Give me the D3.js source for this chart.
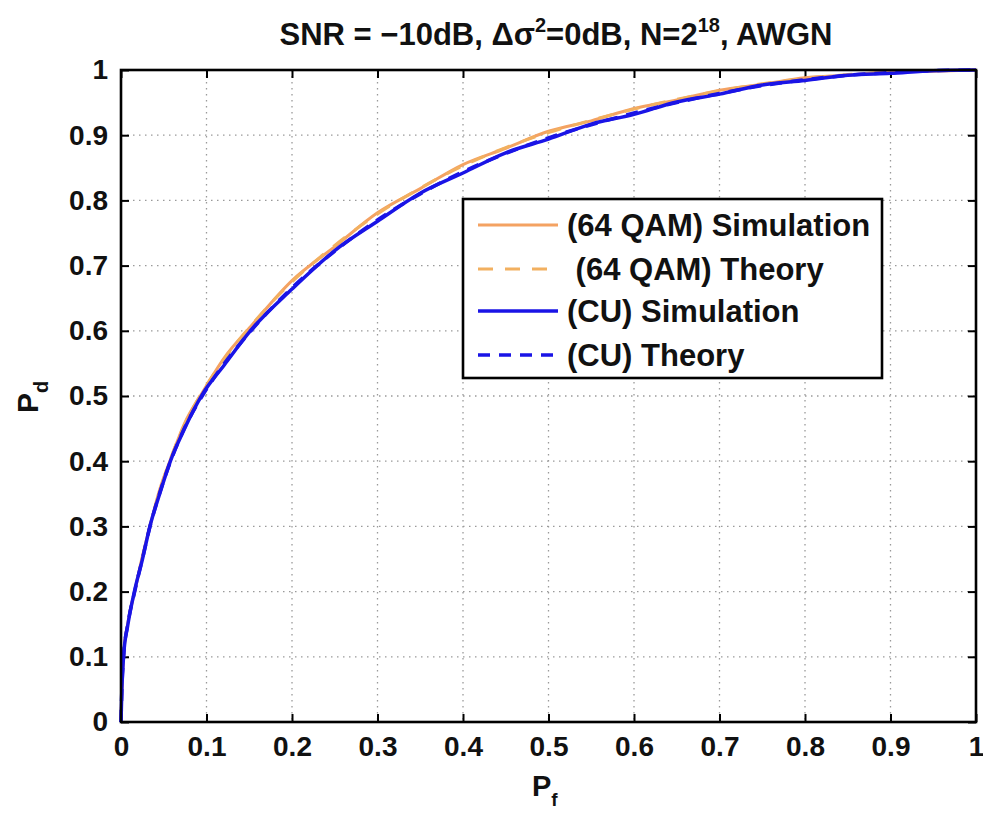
<!DOCTYPE html>
<html>
<head>
<meta charset="utf-8">
<script src="https://cdn.jsdelivr.net/npm/d3@7"></script>
<style>
  html, body { margin: 0; padding: 0; background: #ffffff; }
  svg { display: block; font-family: "Liberation Sans", Arial, Helvetica, sans-serif; font-weight: bold; }
</style>
</head>
<body>
<svg id="chart" width="983" height="813"></svg>
<script>
// False-alarm probability grid shared by all curves
const pf = [0, 0.001, 0.003, 0.008, 0.016, 0.025, 0.034, 0.045, 0.058, 0.074, 0.095,
            0.121, 0.152, 0.2, 0.25, 0.3, 0.35, 0.4, 0.45, 0.5, 0.55, 0.6,
            0.65, 0.7, 0.75, 0.8, 0.85, 0.9, 0.95, 1];

// Detection probability for each series
const qamSim    = [0, 0.049, 0.101, 0.152, 0.2, 0.254, 0.301, 0.355, 0.403, 0.457, 0.505,
                   0.559, 0.607, 0.677, 0.729, 0.781, 0.818, 0.855, 0.88, 0.906, 0.922,
                   0.941, 0.954, 0.969, 0.978, 0.988, 0.992, 0.997, 0.998, 1];
const qamTheory = [0, 0.05, 0.1, 0.151, 0.201, 0.252, 0.302, 0.353, 0.404, 0.455, 0.506,
                   0.557, 0.608, 0.675, 0.731, 0.779, 0.819, 0.853, 0.881, 0.904, 0.923,
                   0.94, 0.955, 0.968, 0.979, 0.987, 0.993, 0.997, 0.999, 1];
const cuSim     = [0, 0.049, 0.101, 0.149, 0.202, 0.249, 0.301, 0.349, 0.401, 0.449, 0.502,
                   0.548, 0.601, 0.664, 0.723, 0.768, 0.811, 0.842, 0.873, 0.894, 0.917,
                   0.932, 0.951, 0.963, 0.977, 0.984, 0.992, 0.995, 0.999, 1];
const cuTheory  = [0, 0.05, 0.1, 0.15, 0.2, 0.25, 0.3, 0.35, 0.4, 0.45, 0.5,
                   0.55, 0.6, 0.666, 0.722, 0.77, 0.81, 0.844, 0.872, 0.896, 0.916,
                   0.934, 0.95, 0.964, 0.976, 0.985, 0.992, 0.996, 0.999, 1];

const seriesNames = ["(64 QAM) Simulation", " (64 QAM) Theory", "(CU) Simulation", "(CU) Theory"];
const seriesData = [qamSim, qamTheory, cuSim, cuTheory];
const seriesColors = ["#f4a262", "#f2b060", "#1a14e6", "#1a14e6"];
const seriesDash = [null, "15,12", null, "12,9"];
const seriesWidth = [3, 3, 3.5, 3.5];

const tickValues = [0, 0.1, 0.2, 0.3, 0.4, 0.5, 0.6, 0.7, 0.8, 0.9, 1];
const tickLabels = ["0", "0.1", "0.2", "0.3", "0.4", "0.5", "0.6", "0.7", "0.8", "0.9", "1"];

const svg = d3.select("#chart");
const plotL = 121, plotR = 976, plotT = 70, plotB = 722;

const x = d3.scaleLinear().domain([0, 1]).range([plotL, plotR]);
const y = d3.scaleLinear().domain([0, 1]).range([plotB, plotT]);
const labelOf = v => tickLabels[tickValues.indexOf(v)];

// Dotted grid
const grid = svg.append("g").attr("stroke", "#9a9a9a").attr("stroke-width", 1.3)
  .attr("stroke-dasharray", "1.5,4.5");
grid.selectAll("line.gx").data(tickValues.slice(1, -1)).join("line").attr("class", "gx")
  .attr("x1", d => x(d)).attr("x2", d => x(d)).attr("y1", plotT).attr("y2", plotB);
grid.selectAll("line.gy").data(tickValues.slice(1, -1)).join("line").attr("class", "gy")
  .attr("y1", d => y(d)).attr("y2", d => y(d)).attr("x1", plotL).attr("x2", plotR);

// Axes with inward ticks on all four sides
function styleAxis(g) {
  g.select(".domain").remove();
  g.selectAll(".tick line").attr("stroke", "#000").attr("stroke-width", 2);
  g.selectAll(".tick text").attr("fill", "#111").style("font-size", "28px").style("font-weight", "bold");
}
svg.append("g").attr("transform", `translate(0,${plotB})`)
  .call(d3.axisBottom(x).tickValues(tickValues).tickFormat(labelOf).tickSizeInner(-8).tickPadding(14))
  .call(styleAxis);
svg.append("g").attr("transform", `translate(${plotL},0)`)
  .call(d3.axisLeft(y).tickValues(tickValues).tickFormat(labelOf).tickSizeInner(-8).tickPadding(13))
  .call(styleAxis);
svg.append("g").attr("transform", `translate(0,${plotT})`)
  .call(d3.axisTop(x).tickValues(tickValues).tickFormat("").tickSizeInner(-8))
  .call(styleAxis);
svg.append("g").attr("transform", `translate(${plotR},0)`)
  .call(d3.axisRight(y).tickValues(tickValues).tickFormat("").tickSizeInner(-8))
  .call(styleAxis);

// Curves
const line = d3.line().x((d, i) => x(pf[i])).y(d => y(d)).curve(d3.curveMonotoneX);
svg.append("g").selectAll("path").data(seriesData).join("path")
  .attr("d", d => line(d))
  .attr("fill", "none")
  .attr("stroke", (d, i) => seriesColors[i])
  .attr("stroke-width", (d, i) => seriesWidth[i])
  .attr("stroke-dasharray", (d, i) => seriesDash[i])
  .attr("stroke-linejoin", "round");

// Axes box
svg.append("rect").attr("x", plotL).attr("y", plotT)
  .attr("width", plotR - plotL).attr("height", plotB - plotT)
  .attr("fill", "none").attr("stroke", "#000").attr("stroke-width", 2.6);

// Legend
const lg = svg.append("g");
lg.append("rect").attr("x", 463).attr("y", 199).attr("width", 419).attr("height", 179)
  .attr("fill", "#fff").attr("stroke", "#000").attr("stroke-width", 2.6);
const rowY = [225, 269, 311, 355];
seriesNames.forEach((name, i) => {
  lg.append("line").attr("x1", 478).attr("x2", 558).attr("y1", rowY[i]).attr("y2", rowY[i])
    .attr("stroke", seriesColors[i]).attr("stroke-width", seriesWidth[i])
    .attr("stroke-dasharray", seriesDash[i]);
  lg.append("text").attr("x", 567).attr("y", rowY[i] + 11)
    .attr("fill", "#111").style("font-size", "31px").style("white-space", "pre")
    .text(name);
});

// Title
const title = svg.append("text").attr("x", 556).attr("y", 45).attr("text-anchor", "middle")
  .attr("fill", "#111").style("font-size", "31px");
title.append("tspan").text("SNR = \u221210dB, \u0394\u03c3");
title.append("tspan").attr("dy", -13).style("font-size", "20px").text("2");
title.append("tspan").attr("dy", 13).text("=0dB, N=2");
title.append("tspan").attr("dy", -13).style("font-size", "20px").text("18");
title.append("tspan").attr("dy", 13).text(", AWGN");

// Axis labels
const xl = svg.append("text").attr("x", 532).attr("y", 796).attr("fill", "#111").style("font-size", "29px");
xl.append("tspan").text("P");
xl.append("tspan").attr("dy", 10).style("font-size", "19px").text("f");

const yl = svg.append("text").attr("transform", "translate(38,413) rotate(-90)")
  .attr("fill", "#111").style("font-size", "30px");
yl.append("tspan").text("P");
yl.append("tspan").attr("dy", 10).style("font-size", "20px").text("d");
</script>
</body>
</html>
